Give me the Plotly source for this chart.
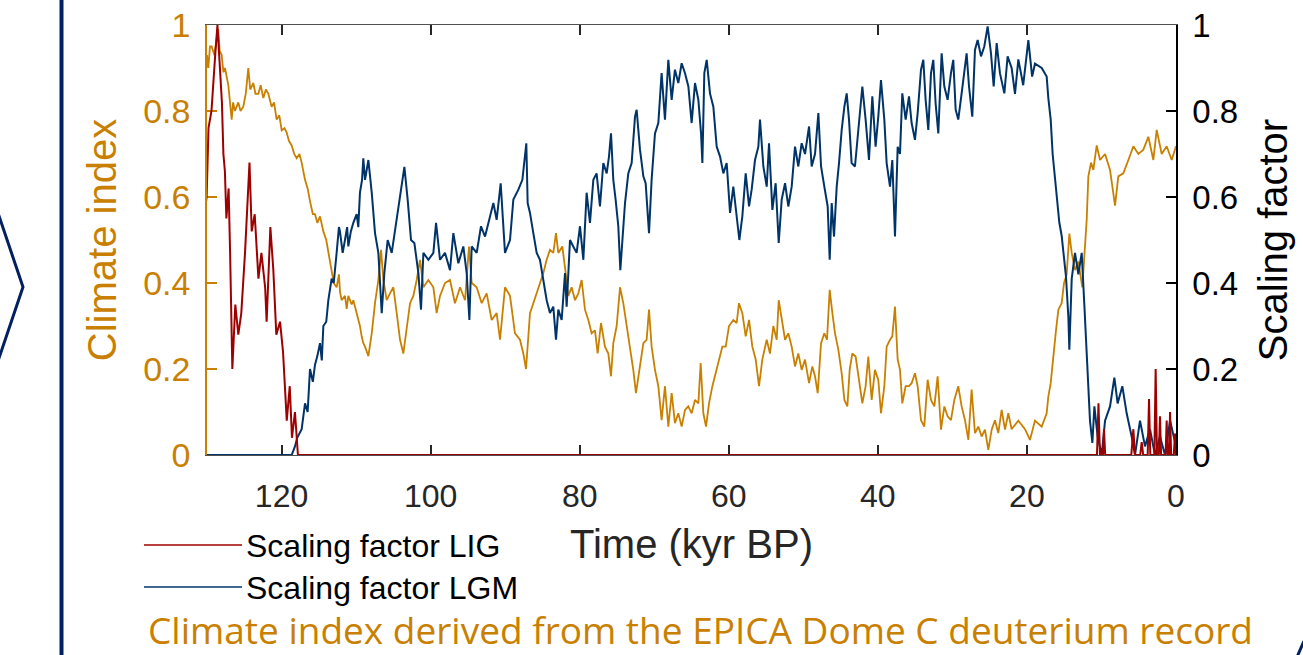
import plotly.graph_objects as go

# ---------------- data ----------------
ci_age = [130.2, 130.0, 129.82, 129.6, 129.38, 129.0, 128.7, 128.5, 128.3, 128.03, 127.8, 127.59,
          127.14, 126.9, 126.69, 126.5, 126.25, 125.8, 125.5, 125.13, 124.8, 124.46, 124.2, 123.79,
          123.5, 123.11, 122.8, 122.44, 122.1, 121.77, 121.33, 121.0, 120.66, 120.3, 119.98, 119.6,
          119.31, 119.0, 118.64, 118.3, 117.97, 117.6, 117.3, 116.85, 116.5, 116.18, 115.8, 115.51,
          115.2, 114.84, 114.39, 114.0, 113.72, 113.28, 113.0, 112.61, 112.3, 112.16, 111.94, 111.49,
          111.26, 111.04, 110.59, 110.37, 109.92, 109.48, 109.25, 109.03, 108.8, 108.35, 107.9, 107.46,
          107.01, 106.65, 106.34, 105.89, 105.45, 105.0, 104.55, 104.1, 103.66, 103.21, 102.76, 102.32,
          101.87, 101.42, 100.97, 100.3, 99.63, 99.19, 98.74, 98.07, 97.4, 96.73, 96.05, 95.38,
          94.85, 94.49, 93.82, 93.15, 92.48, 91.81, 91.14, 90.69, 90.02, 89.35, 88.68, 88.01,
          87.56, 87.2, 86.89, 86.67, 86.22, 85.77, 85.33, 84.88, 84.43, 83.99, 83.54, 83.18,
          82.87, 82.33, 81.88, 81.53, 81.08, 80.63, 80.18, 79.74, 79.29, 78.84, 78.4, 77.95,
          77.59, 77.14, 76.61, 76.16, 75.8, 75.49, 75.04, 74.59, 74.15, 73.7, 73.25, 72.81,
          72.45, 72.0, 71.46, 71.02, 70.7, 70.35, 69.9, 69.45, 69.01, 68.56, 68.11, 67.66,
          67.22, 66.77, 66.32, 65.87, 65.43, 64.98, 64.53, 64.08, 63.77, 63.41, 63.05, 62.65,
          62.2, 61.76, 61.31, 60.86, 60.41, 59.97, 59.39, 58.94, 58.63, 58.18, 57.73, 57.28,
          56.84, 56.39, 55.94, 55.5, 54.91, 54.47, 54.02, 53.57, 53.3, 52.9, 52.45, 52.01,
          51.56, 51.11, 50.67, 50.22, 49.77, 49.23, 48.79, 48.43, 48.07, 47.62, 47.18, 46.82,
          46.46, 46.1, 45.75, 45.3, 44.85, 44.49, 44.09, 43.78, 43.43, 42.98, 42.53, 42.08,
          41.64, 41.28, 40.83, 40.39, 39.94, 39.58, 39.13, 38.82, 38.37, 38.06, 37.7, 37.34,
          37.03, 36.72, 36.27, 35.82, 35.47, 35.02, 34.66, 34.21, 33.77, 33.32, 32.87, 32.42,
          31.98, 31.53, 31.08, 30.64, 30.19, 29.74, 29.21, 28.76, 28.31, 27.86, 27.42, 26.97,
          26.52, 26.07, 25.63, 25.18, 24.73, 24.29, 23.84, 23.39, 22.94, 22.5, 22.05, 21.15,
          20.26, 19.59, 18.92, 18.02, 17.35, 17.13, 16.81, 16.46, 16.1, 15.78, 15.34, 15.02,
          14.67, 14.31, 13.99, 13.55, 13.1, 12.57, 12.21, 11.98, 11.76, 11.4, 11.09, 10.64,
          10.19, 9.52, 8.85, 8.18, 7.74, 7.07, 6.39, 5.72, 5.05, 4.38, 3.71, 3.04,
          2.59, 1.92, 1.25, 0.58, 0.0]
ci_val = [0.87, 0.93, 0.9, 0.95, 0.95, 0.93, 0.97, 0.99, 0.94, 0.93, 0.89, 0.9,
          0.86, 0.82, 0.78, 0.82, 0.8, 0.82, 0.8, 0.81, 0.84, 0.9, 0.85, 0.865,
          0.84, 0.84, 0.86, 0.83, 0.85, 0.84, 0.81, 0.82, 0.78, 0.79, 0.755, 0.76,
          0.75, 0.73, 0.72, 0.7, 0.69, 0.7, 0.68, 0.64, 0.62, 0.59, 0.56, 0.56,
          0.54, 0.555, 0.52, 0.5, 0.47, 0.43, 0.4, 0.39, 0.42, 0.38, 0.36, 0.37,
          0.34, 0.37, 0.35, 0.36, 0.33, 0.3, 0.276, 0.26, 0.252, 0.23, 0.283, 0.353,
          0.407, 0.477, 0.407, 0.36, 0.376, 0.39, 0.33, 0.268, 0.236, 0.29, 0.353, 0.37,
          0.407, 0.454, 0.39, 0.407, 0.39, 0.33, 0.37, 0.4, 0.407, 0.353, 0.39, 0.36,
          0.485, 0.4, 0.39, 0.353, 0.376, 0.314, 0.33, 0.268, 0.39, 0.37, 0.283, 0.268,
          0.236, 0.2, 0.29, 0.33, 0.353, 0.376, 0.4, 0.423, 0.454, 0.477, 0.47, 0.516,
          0.47, 0.485, 0.423, 0.37, 0.39, 0.36, 0.376, 0.407, 0.338, 0.314, 0.283, 0.29,
          0.236, 0.307, 0.252, 0.236, 0.183, 0.26, 0.3, 0.39, 0.353, 0.3, 0.252, 0.198,
          0.144, 0.198, 0.26, 0.268, 0.338, 0.252, 0.198, 0.16, 0.081, 0.16, 0.066, 0.144,
          0.074, 0.097, 0.066, 0.105, 0.113, 0.097, 0.128, 0.12, 0.214, 0.097, 0.066, 0.12,
          0.16, 0.19, 0.222, 0.252, 0.252, 0.3, 0.314, 0.307, 0.353, 0.33, 0.276, 0.314,
          0.252, 0.222, 0.16, 0.222, 0.268, 0.236, 0.3, 0.268, 0.36, 0.314, 0.268, 0.283,
          0.252, 0.206, 0.236, 0.198, 0.222, 0.167, 0.206, 0.183, 0.144, 0.26, 0.283, 0.268,
          0.384, 0.33, 0.283, 0.245, 0.19, 0.128, 0.113, 0.198, 0.236, 0.229, 0.175, 0.12,
          0.16, 0.229, 0.128, 0.198, 0.175, 0.097, 0.16, 0.252, 0.268, 0.276, 0.345, 0.222,
          0.198, 0.12, 0.16, 0.16, 0.167, 0.19, 0.16, 0.081, 0.066, 0.175, 0.128, 0.113,
          0.183, 0.059, 0.113, 0.09, 0.081, 0.128, 0.16, 0.113, 0.081, 0.035, 0.152, 0.051,
          0.066, 0.043, 0.059, 0.012, 0.059, 0.081, 0.051, 0.105, 0.059, 0.097, 0.06, 0.08,
          0.06, 0.035, 0.08, 0.066, 0.097, 0.136, 0.167, 0.236, 0.29, 0.338, 0.353, 0.4,
          0.42, 0.515, 0.47, 0.43, 0.45, 0.39, 0.5, 0.547, 0.648, 0.68, 0.663, 0.72,
          0.686, 0.7, 0.663, 0.58, 0.648, 0.655, 0.686, 0.718, 0.7, 0.71, 0.74, 0.686,
          0.756, 0.7, 0.718, 0.686, 0.718]

lgm_age = [130.2, 118.64, 118.2, 117.9, 117.3, 116.85, 116.5, 116.18, 115.8, 115.51, 115.2, 114.84,
           114.6, 114.39, 114.0, 113.72, 113.28, 113.0, 112.61, 112.3, 112.16, 111.8, 111.49, 111.2,
           111.04, 110.7, 110.37, 109.92, 109.7, 109.48, 109.2, 109.03, 108.8, 108.6, 108.35, 107.9,
           107.46, 107.01, 106.56, 106.21, 105.76, 105.22, 104.69, 104.1, 103.52, 103.08, 102.63, 102.18,
           101.64, 101.29, 100.97, 100.3, 99.63, 99.27, 98.74, 98.07, 97.4, 96.95, 96.28, 95.61,
           95.16, 94.8, 94.49, 93.82, 93.24, 92.7, 92.16, 91.58, 91.14, 90.6, 90.02, 89.35,
           88.9, 88.23, 87.69, 87.16, 86.98, 86.67, 86.22, 85.77, 85.33, 84.88, 84.43, 83.99,
           83.54, 83.18, 82.87, 82.42, 81.97, 81.75, 81.3, 80.86, 80.41, 79.96, 79.51, 79.07,
           78.62, 78.17, 77.73, 77.28, 76.83, 76.38, 76.07, 75.8, 75.49, 75.18, 74.82, 74.55,
           74.28, 73.92, 73.48, 73.03, 72.58, 72.36, 71.91, 71.46, 71.15, 70.7, 70.35, 69.9,
           69.45, 69.01, 68.56, 68.11, 67.66, 67.22, 66.77, 66.32, 65.87, 65.42, 64.98, 64.53,
           64.08, 63.72, 63.54, 63.28, 62.96, 62.52, 62.07, 61.62, 61.17, 60.73, 60.28, 59.83,
           59.39, 58.94, 58.58, 58.18, 57.73, 57.28, 56.93, 56.48, 56.03, 55.81, 55.36, 54.91,
           54.6, 54.15, 53.71, 53.3, 52.9, 52.45, 52.01, 51.56, 51.11, 50.67, 50.22, 49.77,
           49.23, 48.88, 48.43, 47.98, 47.62, 47.18, 46.73, 46.46, 46.19, 45.88, 45.52, 45.21,
           44.85, 44.49, 44.18, 43.87, 43.52, 43.07, 42.62, 42.08, 41.64, 41.19, 40.74, 40.3,
           39.94, 39.58, 39.13, 38.82, 38.37, 38.06, 37.7, 37.34, 37.03, 36.72, 36.27, 35.82,
           35.47, 35.02, 34.66, 34.21, 33.9, 33.59, 33.23, 32.87, 32.56, 32.25, 31.89, 31.44,
           31.08, 30.64, 30.19, 29.88, 29.56, 29.21, 28.76, 28.4, 28.09, 27.77, 27.33, 26.97,
           26.61, 26.16, 25.72, 25.27, 24.82, 24.46, 24.06, 23.62, 23.03, 22.59, 22.05, 21.6,
           21.15, 20.5, 19.81, 19.3, 18.92, 18.02, 17.35, 17.13, 16.81, 16.55, 16.23, 15.92,
           15.65, 15.34, 15.02, 14.76, 14.44, 14.31, 13.99, 13.55, 13.1, 12.65, 12.3, 12.07,
           11.85, 11.54, 11.22, 10.95, 10.51, 9.97, 9.52, 8.85, 8.27, 7.83, 7.2, 6.62,
           5.95, 5.5, 4.83, 4.16, 3.49, 2.82, 2.15, 1.47, 0.8, 0.13, 0.0]
lgm_val = [0.0, 0.0, 0.02, 0.04, 0.06, 0.12, 0.1, 0.2, 0.17, 0.21, 0.23, 0.26,
           0.22, 0.3, 0.31, 0.36, 0.41, 0.4, 0.47, 0.53, 0.52, 0.47, 0.5, 0.53,
           0.485, 0.52, 0.54, 0.56, 0.53, 0.61, 0.64, 0.69, 0.64, 0.66, 0.686, 0.61,
           0.516, 0.47, 0.33, 0.423, 0.5, 0.47, 0.532, 0.61, 0.67, 0.594, 0.5, 0.493,
           0.423, 0.338, 0.47, 0.454, 0.47, 0.54, 0.454, 0.47, 0.43, 0.516, 0.446, 0.485,
           0.423, 0.314, 0.485, 0.47, 0.532, 0.508, 0.547, 0.586, 0.547, 0.632, 0.47, 0.5,
           0.594, 0.617, 0.64, 0.725, 0.586, 0.563, 0.516, 0.47, 0.454, 0.407, 0.36, 0.33,
           0.345, 0.268, 0.338, 0.314, 0.423, 0.345, 0.5, 0.485, 0.47, 0.532, 0.454, 0.61,
           0.54, 0.64, 0.655, 0.578, 0.679, 0.655, 0.694, 0.748, 0.64, 0.594, 0.532, 0.43,
           0.508, 0.586, 0.655, 0.679, 0.787, 0.803, 0.71, 0.648, 0.632, 0.516, 0.64, 0.748,
           0.772, 0.888, 0.78, 0.919, 0.826, 0.896, 0.865, 0.911, 0.888, 0.857, 0.772, 0.865,
           0.826, 0.748, 0.679, 0.888, 0.919, 0.841, 0.81, 0.717, 0.694, 0.655, 0.679, 0.563,
           0.624, 0.555, 0.5, 0.555, 0.655, 0.578, 0.617, 0.686, 0.717, 0.78, 0.671, 0.624,
           0.725, 0.57, 0.632, 0.493, 0.594, 0.632, 0.578, 0.624, 0.717, 0.671, 0.725, 0.7,
           0.764, 0.671, 0.7, 0.795, 0.671, 0.624, 0.578, 0.454, 0.586, 0.508, 0.624, 0.679,
           0.756, 0.81, 0.841, 0.78, 0.679, 0.671, 0.764, 0.857, 0.78, 0.686, 0.834, 0.717,
           0.787, 0.872, 0.78, 0.679, 0.624, 0.686, 0.508, 0.717, 0.7, 0.841, 0.78, 0.834,
           0.772, 0.733, 0.795, 0.896, 0.919, 0.826, 0.756, 0.888, 0.919, 0.818, 0.748, 0.934,
           0.857, 0.826, 0.888, 0.919, 0.803, 0.78, 0.841, 0.896, 0.934, 0.857, 0.787, 0.942,
           0.965, 0.927, 0.95, 0.997, 0.934, 0.857, 0.958, 0.888, 0.841, 0.927, 0.9, 0.84,
           0.92, 0.86, 0.965, 0.88, 0.91, 0.9, 0.88, 0.83, 0.78, 0.7, 0.64, 0.585,
           0.54, 0.51, 0.45, 0.415, 0.32, 0.245, 0.41, 0.47, 0.42, 0.47, 0.35, 0.276,
           0.2, 0.08, 0.028, 0.113, 0.043, 0.0, 0.08, 0.113, 0.18, 0.12, 0.16, 0.097,
           0.043, 0.0, 0.08, 0.02, 0.06, 0.0, 0.043, 0.0, 0.08, 0.035, 0.02]

lig_age = [130.2, 130.05, 129.8, 129.4, 128.9, 128.6, 128.3, 128.0, 127.8, 127.6, 127.4, 127.1,
           126.9, 126.6, 126.2, 125.8, 125.4, 124.9, 124.3, 124.0, 123.6, 123.1, 122.7, 122.2,
           122.0, 121.5, 121.1, 120.7, 120.2, 119.8, 119.3, 118.9, 118.6, 118.2, 117.8, 10.6,
           10.4, 10.2, 9.8, 9.66, 9.5, 6.0, 5.72, 5.5, 4.8, 4.6, 4.4, 3.8,
           3.62, 3.45, 2.9, 2.73, 2.55, 2.3, 2.15, 2.0, 1.4, 1.25, 1.1, 0.9,
           0.8, 0.65, 0.3, 0.13, 0.0]
lig_val = [0.58, 0.6, 0.76, 0.8, 0.93, 1.0, 0.91, 0.82, 0.7, 0.66, 0.55, 0.62,
           0.47, 0.2, 0.35, 0.28, 0.33, 0.47, 0.68, 0.52, 0.56, 0.41, 0.47, 0.39,
           0.31, 0.53, 0.43, 0.28, 0.31, 0.24, 0.08, 0.16, 0.04, 0.1, 0.0, 0.0,
           0.12, 0.0, 0.0, 0.06, 0.0, 0.0, 0.06, 0.0, 0.0, 0.03, 0.0, 0.0,
           0.13, 0.0, 0.0, 0.2, 0.0, 0.0, 0.09, 0.0, 0.0, 0.08, 0.0, 0.0,
           0.1, 0.0, 0.0, 0.05, 0.0]

x_ticks = [0, 20, 40, 60, 80, 100, 120]
y_ticks = [0, 0.2, 0.4, 0.6, 0.8, 1]

ORANGE = "#C98000"
BLUE = "#003468"
RED = "#9E0000"
NAVY = "#002060"
FONT = "Liberation Sans, Arial, sans-serif"

W, H = 1303, 655
L, R, T, B = 207, 1176, 25, 455


def px(x):
    return (x - L) / (R - L)


def py(y):
    return (B - y) / (B - T)


fig = go.Figure()
fig.add_trace(go.Scatter(x=ci_age, y=ci_val, mode="lines", line=dict(color=ORANGE, width=1.8),
                         showlegend=False, yaxis="y"))
fig.add_trace(go.Scatter(x=lgm_age, y=lgm_val, mode="lines", line=dict(color=BLUE, width=2),
                         showlegend=False, yaxis="y2"))
fig.add_trace(go.Scatter(x=lig_age, y=lig_val, mode="lines", line=dict(color=RED, width=2),
                         showlegend=False, yaxis="y2"))

shapes = []
annotations = []
# legend drawn below the axes
for yy, col, txt in [(545, RED, "Scaling factor LIG"), (587, BLUE, "Scaling factor LGM")]:
    shapes.append(dict(type="line", xref="paper", yref="paper", x0=px(144), x1=px(242),
                       y0=py(yy), y1=py(yy), line=dict(color=col, width=1.5)))
    annotations.append(dict(text=txt, xref="paper", yref="paper", x=px(244), y=py(yy + 1),
                            xanchor="left", yanchor="middle", showarrow=False,
                            font=dict(family=FONT, size=32, color="#000000")))
# slide decorations
shapes.append(dict(type="line", xref="paper", yref="paper", x0=px(61.5), x1=px(61.5),
                   y0=py(0), y1=py(655), line=dict(color=NAVY, width=4)))
shapes.append(dict(type="path", xref="paper", yref="paper",
                   path=f"M {px(-2)} {py(213)} L {px(23)} {py(287)} L {px(-2)} {py(361)}",
                   line=dict(color=NAVY, width=3)))
shapes.append(dict(type="line", xref="paper", yref="paper", x0=px(1297), x1=px(1304),
                   y0=py(657), y1=py(641), line=dict(color=NAVY, width=3)))
annotations.append(dict(text="Climate index derived from the EPICA Dome C deuterium record",
                        xref="paper", yref="paper", x=px(146), y=py(602), xanchor="left",
                        yanchor="top", showarrow=False,
                        font=dict(family="Open Sans, sans-serif", size=37, color=ORANGE)))

fig.update_layout(
    width=W, height=H,
    margin=dict(l=L, r=W - R, t=T, b=H - B, autoexpand=False),
    paper_bgcolor="white", plot_bgcolor="white",
    font=dict(family=FONT),
    shapes=shapes, annotations=annotations,
    xaxis=dict(range=[130, 0], autorange=False, tickvals=x_ticks, ticks="inside", ticklen=10,
               tickwidth=1.5, tickcolor="#262626", showline=True, linecolor="#505050", linewidth=1,
               mirror="ticks", showgrid=False, zeroline=False, layer="below traces",
               tickfont=dict(size=32, color="#262626"), ticklabelstandoff=13,
               title=dict(text="Time (kyr BP)", font=dict(size=40, color="#262626"), standoff=16)),
    yaxis=dict(range=[0, 1], autorange=False, tickvals=y_ticks, ticks="inside", ticklen=10,
               tickwidth=1.5, tickcolor=ORANGE, showline=True, linecolor=ORANGE, linewidth=1.5,
               showgrid=False, zeroline=False, layer="below traces",
               tickfont=dict(size=34, color=ORANGE), ticklabelstandoff=8,
               title=dict(text="Climate index", font=dict(size=40, color=ORANGE), standoff=14)),
    yaxis2=dict(range=[0, 1], autorange=False, tickvals=y_ticks, ticks="inside", ticklen=10,
                tickwidth=1.5, tickcolor="#000000", showline=True, linecolor="#000000", linewidth=1.5,
                overlaying="y", side="right", showgrid=False, zeroline=False, layer="below traces",
                tickfont=dict(size=33, color="#000000"), ticklabelstandoff=8,
                title=dict(text="Scaling factor", font=dict(size=40, color="#000000"), standoff=22)),
)

fig.write_html("out.html")
